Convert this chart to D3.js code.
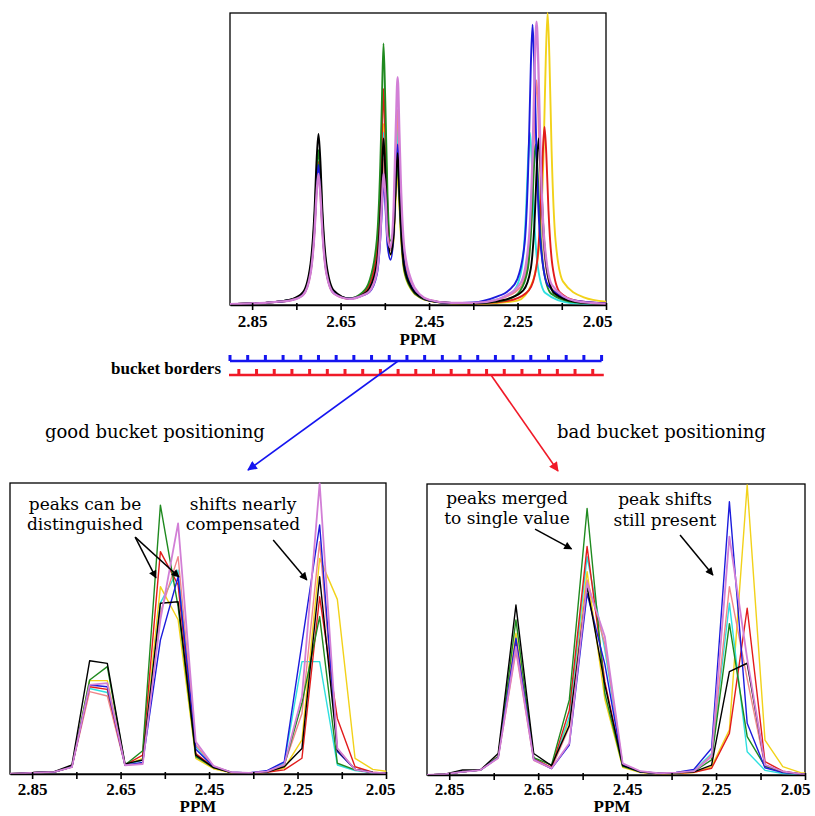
<!DOCTYPE html>
<html>
<head>
<meta charset="utf-8">
<script src="https://cdn.jsdelivr.net/npm/d3@7"></script>
<style>
  body { margin: 0; background: #fff; }
  svg { display: block; }
</style>
</head>
<body>
<svg id="fig" width="815" height="816"></svg>
<script>
// ---- data ----
const ppmTicks = [2.85, 2.75, 2.65, 2.55, 2.45, 2.35, 2.25, 2.15, 2.05];
const ppmTickLabels = ["2.85", "2.65", "2.45", "2.25", "2.05"];

// bucket borders (ppm)
const blueBorders = [2.90, 2.86, 2.82, 2.78, 2.74, 2.70, 2.66, 2.62, 2.58, 2.54, 2.50, 2.46, 2.42, 2.38, 2.34, 2.30, 2.26, 2.22, 2.18, 2.14, 2.10, 2.06];
const redBorders = [2.88, 2.84, 2.80, 2.76, 2.72, 2.68, 2.64, 2.60, 2.56, 2.52, 2.48, 2.44, 2.40, 2.36, 2.32, 2.28, 2.24, 2.20, 2.16, 2.12, 2.08];
const redLineEnd = 2.055;

// full spectra, [ppm, intensity %]
const topBlack = [[2.90,0.3],[2.80,1],[2.76,2],[2.735,4.4],[2.718,14.1],[2.709,32.2],[2.704,50.4],[2.700,58.6],[2.696,50.4],[2.691,32.2],[2.682,14.1],[2.665,4.9],[2.63,2.2],
  [2.60,3.6],[2.585,5.6],[2.568,14.3],[2.560,31.4],[2.557,42.8],[2.553,57],[2.549,45.9],[2.544,26.1],[2.537,17.4],[2.530,24.6],[2.525,42.4],[2.521,52],[2.517,39],[2.514,28.6],[2.506,13],[2.489,5.7],[2.47,2.8],[2.45,1.6],[2.40,0.7],
  [2.35,0.6],[2.30,1.2],[2.27,2.2],[2.237,5],[2.220,12.5],[2.211,30.2],[2.206,48.5],[2.202,57],[2.198,48.5],[2.193,30.2],[2.184,12.5],[2.167,4],[2.12,1.1],[2.05,0.4]];
const topGreen = [[2.90,0.3],[2.80,1],[2.76,1.9],[2.735,4],[2.718,12.7],[2.709,29.2],[2.704,45.6],[2.700,53],[2.696,45.6],[2.691,29.2],[2.682,12.7],[2.665,4.5],[2.63,2.3],
  [2.60,4.4],[2.585,8.2],[2.568,22.4],[2.560,49.3],[2.557,67.2],[2.553,89.6],[2.549,70.1],[2.544,38.1],[2.537,22],[2.530,25.8],[2.525,41.4],[2.521,48],[2.517,36],[2.514,26.4],[2.506,12],[2.489,5.3],[2.47,2.6],[2.45,1.5],[2.40,0.6],
  [2.35,0.5],[2.30,1.1],[2.27,2],[2.244,4.9],[2.227,12.1],[2.218,29.2],[2.213,46.8],[2.209,55],[2.205,46.8],[2.200,29.2],[2.191,12.1],[2.174,3.9],[2.12,0.9],[2.05,0.3]];
const topRed = [[2.90,0.3],[2.80,1],[2.76,1.8],[2.735,3.7],[2.718,11.8],[2.709,27],[2.704,42.1],[2.700,49],[2.696,42.1],[2.691,27],[2.682,11.8],[2.665,4.2],[2.63,2.2],
  [2.60,4],[2.585,6.9],[2.568,18.5],[2.560,40.7],[2.557,55.5],[2.553,74],[2.549,58.5],[2.544,32.4],[2.537,19.8],[2.530,25.3],[2.525,41.9],[2.521,50],[2.517,37.5],[2.514,27.5],[2.506,12.5],[2.489,5.5],[2.47,2.7],[2.45,1.5],[2.40,0.6],
  [2.35,0.5],[2.30,0.9],[2.26,1.8],[2.224,5.1],[2.207,13.4],[2.198,32.3],[2.193,51.9],[2.189,61],[2.185,51.9],[2.180,32.3],[2.171,13.4],[2.154,4.3],[2.12,1.6],[2.05,0.5]];
const topBlue = [[2.90,0.3],[2.80,1],[2.76,1.8],[2.735,3.6],[2.718,11.5],[2.709,26.4],[2.704,41.3],[2.700,48],[2.696,41.3],[2.691,26.4],[2.682,11.5],[2.665,4.1],[2.63,2.2],
  [2.60,3.3],[2.585,4.4],[2.568,10.5],[2.560,23.1],[2.557,31.5],[2.553,42],[2.549,34.8],[2.544,20.7],[2.537,15.5],[2.530,24.5],[2.525,43.8],[2.521,55],[2.517,41.3],[2.514,30.3],[2.506,13.8],[2.489,6],[2.47,2.9],[2.45,1.6],[2.40,0.7],
  [2.35,0.9],[2.30,2.7],[2.27,5],[2.251,8.7],[2.234,21.1],[2.225,50.9],[2.220,81.6],[2.216,96],[2.212,81.6],[2.207,50.9],[2.198,21.1],[2.181,6.7],[2.13,1.7],[2.05,0.5]];
const topCyan = [[2.90,0.3],[2.80,1],[2.76,1.8],[2.735,3.5],[2.718,11.3],[2.709,25.9],[2.704,40.4],[2.700,47],[2.696,40.4],[2.691,25.9],[2.682,11.3],[2.665,4],[2.63,2.2],
  [2.60,3.6],[2.585,5.7],[2.568,14.8],[2.560,32.5],[2.557,44.3],[2.553,59],[2.549,48],[2.544,27.6],[2.537,19.2],[2.530,28.2],[2.525,49.3],[2.521,61],[2.517,45.8],[2.514,33.6],[2.506,15.3],[2.489,6.5],[2.47,3],[2.45,1.6],[2.40,0.7],
  [2.35,0.7],[2.30,1.7],[2.28,2.8],[2.257,5.1],[2.240,13],[2.231,31.3],[2.226,50.2],[2.222,59],[2.218,50.2],[2.213,31.3],[2.204,13],[2.187,4.1],[2.13,0.7],[2.05,0.2]];
const topYellow = [[2.90,0.3],[2.80,1],[2.76,1.8],[2.735,3.6],[2.718,11.5],[2.709,26.4],[2.704,41.3],[2.700,48],[2.696,41.3],[2.691,26.4],[2.682,11.5],[2.665,4.1],[2.63,2.2],
  [2.60,3.5],[2.585,6],[2.568,15.5],[2.560,34.1],[2.557,46.5],[2.553,62],[2.549,49.2],[2.544,27.4],[2.537,17.1],[2.530,22.4],[2.525,37.5],[2.521,45],[2.517,33.8],[2.514,24.8],[2.506,11.3],[2.489,5],[2.47,2.5],[2.45,1.4],[2.40,0.6],
  [2.35,0.4],[2.30,0.7],[2.25,1.5],[2.217,7.5],[2.200,22],[2.191,53],[2.186,85],[2.182,100],[2.178,85],[2.173,53],[2.164,22],[2.147,8],[2.10,2.6],[2.05,1.1]];
const topSalmon = [[2.90,0.3],[2.80,1],[2.76,1.7],[2.735,3.4],[2.718,10.8],[2.709,24.8],[2.704,38.7],[2.700,45],[2.696,38.7],[2.691,24.8],[2.682,10.8],[2.665,3.9],[2.63,2.1],
  [2.60,3.3],[2.585,5],[2.568,12.5],[2.560,27.5],[2.557,37.5],[2.553,50],[2.549,41.5],[2.544,24.7],[2.537,18.7],[2.530,29.8],[2.525,53.3],[2.521,67],[2.517,50.3],[2.514,36.9],[2.506,16.8],[2.489,7],[2.47,3.2],[2.45,1.7],[2.40,0.7],
  [2.35,0.6],[2.30,1.5],[2.28,2.6],[2.242,6.4],[2.225,16.9],[2.216,40.8],[2.211,65.5],[2.207,77],[2.203,65.5],[2.198,40.8],[2.189,16.9],[2.172,5.4],[2.12,1.2],[2.05,0.3]];
const topOrchid = [[2.90,0.3],[2.80,1],[2.76,1.7],[2.735,3.4],[2.718,10.8],[2.709,24.8],[2.704,38.7],[2.700,45],[2.696,38.7],[2.691,24.8],[2.682,10.8],[2.665,3.9],[2.63,2.1],
  [2.60,3.3],[2.585,4.6],[2.568,11.3],[2.560,24.8],[2.557,33.8],[2.553,45],[2.549,38.5],[2.544,23.7],[2.537,19.7],[2.530,33.4],[2.525,61.2],[2.521,78],[2.517,58.5],[2.514,42.9],[2.506,19.5],[2.489,8],[2.47,3.5],[2.45,1.8],[2.40,0.7],
  [2.35,0.7],[2.30,1.7],[2.28,2.9],[2.242,7.8],[2.225,21.3],[2.216,51.4],[2.211,82.5],[2.207,97],[2.203,82.5],[2.198,51.4],[2.189,21.3],[2.172,6.8],[2.12,1.4],[2.05,0.4]];

// good bucket positioning: bucket centres (blue borders)
const goodPpm = [2.92, 2.88, 2.84, 2.80, 2.76, 2.72, 2.68, 2.64, 2.60, 2.56, 2.52, 2.48, 2.44, 2.40, 2.36, 2.32, 2.28, 2.24, 2.20, 2.16, 2.12, 2.08, 2.04];
const goodBlack  = [0, 0.2, 0.5, 0.8, 3.1, 38.9, 38, 3.5, 4.8, 58.7, 59.2, 6.5, 2.2, 0.5, 0.3, 0.7, 2.5, 8.8, 67.8, 8.2, 1.6, 0.5, 0.2];
const goodGreen  = [0, 0.2, 0.5, 0.7, 2.5, 32.3, 36.9, 3.1, 8, 92.4, 57.5, 6, 2.2, 0.5, 0.3, 0.7, 3, 24.3, 54.1, 3.7, 1.4, 0.5, 0.2];
const goodRed    = [0, 0.2, 0.5, 0.7, 2.5, 30, 29.1, 3.1, 6.5, 76.4, 65, 7, 2.3, 0.5, 0.3, 0.6, 1.4, 5.4, 60.9, 19.1, 2.5, 0.6, 0.2];
const goodBlue   = [0, 0.2, 0.5, 0.7, 2.5, 30.6, 30, 3, 4, 46, 67.8, 8.5, 2.5, 0.6, 0.4, 1.1, 4.2, 45, 85.6, 7.7, 1.6, 0.5, 0.2];
const goodCyan   = [0, 0.2, 0.5, 0.7, 2.5, 29.4, 28, 3, 4.8, 58.8, 70.1, 9.4, 2.6, 0.6, 0.4, 0.9, 3.7, 38.6, 38.6, 3.1, 1.2, 0.4, 0.1];
const goodYellow = [0, 0.2, 0.5, 0.7, 2.5, 32.1, 32.1, 3, 5.4, 64.4, 53, 5.4, 1.8, 0.4, 0.3, 0.6, 2, 11.7, 74.1, 60, 5.4, 1.6, 0.7];
const goodSalmon = [0, 0.2, 0.5, 0.7, 2.4, 28.3, 26.8, 3, 3.8, 55.3, 74.7, 10, 2.7, 0.6, 0.4, 0.8, 3.2, 20.8, 79.8, 8.8, 1.5, 0.5, 0.2];
const goodOrchid = [0, 0.2, 0.5, 0.7, 2.4, 30.6, 31.2, 3, 3.4, 53, 86.1, 11.1, 2.8, 0.6, 0.4, 0.8, 3.2, 26.6, 99.9, 8.8, 1.5, 0.5, 0.2];

// bad bucket positioning: bucket centres (red borders)
const badPpm = [2.90, 2.86, 2.82, 2.78, 2.74, 2.70, 2.66, 2.62, 2.58, 2.54, 2.50, 2.46, 2.42, 2.38, 2.34, 2.30, 2.26, 2.22, 2.18, 2.14, 2.10, 2.06, 2.02];
const badBlack  = [0, 0.3, 1.7, 1.7, 7.4, 58.4, 7.4, 3.2, 17, 64.7, 31, 3.2, 1.1, 0.5, 0.8, 1.1, 3.4, 35.5, 38.4, 3.4, 1.1, 0.4, 0.2];
const badGreen  = [0, 0.3, 1.1, 1.7, 6.3, 53.3, 6, 3.4, 25.8, 91.6, 28, 3, 1, 0.5, 0.7, 1.2, 5.2, 52, 13.2, 3, 1, 0.3, 0.1];
const badRed    = [0, 0.3, 1.1, 1.7, 6.3, 46.4, 5.7, 2.5, 22.3, 78.5, 32, 3.3, 1, 0.5, 0.6, 0.9, 2.3, 14.3, 57.3, 4.6, 1.3, 0.4, 0.1];
const badBlue   = [0, 0.3, 1.1, 1.7, 6, 47, 5.4, 2.2, 10.3, 62.4, 38, 3.4, 1.1, 0.6, 0.9, 1.9, 9.2, 93.9, 17.8, 2.5, 0.8, 0.3, 0.1];
const badCyan   = [0, 0.3, 1.1, 1.7, 6, 45.5, 5.4, 2.3, 20, 75, 43, 3.6, 1.1, 0.6, 0.8, 1.4, 7.4, 59, 8, 1.6, 0.5, 0.2, 0.1];
const badYellow = [0, 0.3, 1.1, 1.7, 6.3, 48.7, 5.5, 2.3, 18.9, 69.9, 26, 2.6, 0.8, 0.4, 0.5, 0.8, 2.9, 15.5, 99.7, 12, 2.9, 0.8, 0.4];
const badSalmon = [0, 0.3, 1.1, 1.7, 5.8, 42.4, 5, 2.2, 16.5, 67, 45, 3.6, 1.2, 0.6, 0.8, 1.2, 6.9, 64.7, 33, 3, 1, 0.3, 0.1];
const badOrchid = [0, 0.3, 1.1, 1.7, 5.8, 44, 5.2, 2.3, 10.9, 65.9, 47.5, 4, 1.3, 0.6, 0.8, 1.3, 6.3, 81.9, 40, 3.5, 1.2, 0.4, 0.1];

const drawOrder = ["yellow", "cyan", "salmon", "red", "green", "blue", "black", "orchid"];
const colors = {
  black: "#000000", green: "#1f8a1f", red: "#e21b1b", blue: "#1b1bdc",
  cyan: "#2fe0e0", yellow: "#f2d21a", salmon: "#f0868a", orchid: "#d27fd6"
};
const topSeries = { black: topBlack, green: topGreen, red: topRed, blue: topBlue, cyan: topCyan, yellow: topYellow, salmon: topSalmon, orchid: topOrchid };
const goodSeries = { black: goodBlack, green: goodGreen, red: goodRed, blue: goodBlue, cyan: goodCyan, yellow: goodYellow, salmon: goodSalmon, orchid: goodOrchid };
const badSeries = { black: badBlack, green: badGreen, red: badRed, blue: badBlue, cyan: badCyan, yellow: badYellow, salmon: badSalmon, orchid: badOrchid };

const boldFont = "'Liberation Serif', 'Times New Roman', serif";
const textFont = "'DejaVu Serif', serif";

const svg = d3.select("#fig");
const defs = svg.append("defs");

function arrowMarker(id, color, size) {
  defs.append("marker")
    .attr("id", id)
    .attr("viewBox", "0 0 10 10")
    .attr("refX", 9).attr("refY", 5)
    .attr("markerUnits", "userSpaceOnUse")
    .attr("markerWidth", size).attr("markerHeight", size * 0.8)
    .attr("orient", "auto")
    .append("path").attr("d", "M0,0 L10,5 L0,10 z").attr("fill", color);
}
arrowMarker("ah-black", "#000", 10);
arrowMarker("ah-blue", "#1515f0", 12);
arrowMarker("ah-red", "#f01a28", 12);

function makePanel(id, x0, x1, yTop, yBot, pad, ppmGap, lastDx, ppmDx) {
  const x = d3.scaleLinear().domain([2.90, 2.05]).range([x0, x1]);
  const y = d3.scaleLinear().domain([0, 100]).range([yBot, yTop]);
  defs.append("clipPath").attr("id", "clip-" + id)
    .append("rect").attr("x", x0).attr("y", yTop - 1).attr("width", x1 - x0).attr("height", yBot - yTop + 1);
  const g = svg.append("g").attr("class", "panel-" + id);
  g.append("rect")
    .attr("x", x0).attr("y", yTop).attr("width", x1 - x0).attr("height", yBot - yTop)
    .attr("fill", "none").attr("stroke", "#000").attr("stroke-width", 1.3);
  const plot = g.append("g").attr("clip-path", `url(#clip-${id})`);

  const axis = d3.axisBottom(x)
    .tickValues(ppmTicks)
    .tickSizeInner(5).tickSizeOuter(0).tickPadding(pad)
    .tickFormat(d => ppmTickLabels.includes(d.toFixed(2)) ? d.toFixed(2) : "");
  const ag = g.append("g").attr("transform", `translate(0,${yBot})`).call(axis);
  ag.select(".domain").attr("stroke", "#000").attr("stroke-width", 1.6);
  ag.selectAll(".tick line").attr("y1", -2).attr("stroke", "#000").attr("stroke-width", 1.6);
  ag.selectAll(".tick text")
    .attr("font-family", boldFont).attr("font-weight", "bold")
    .attr("font-size", 17).attr("fill", "#000");
  ag.selectAll(".tick text").filter(d => d === 2.05).attr("dx", lastDx);
  g.append("text")
    .attr("x", (x0 + x1) / 2 + ppmDx).attr("y", yBot + ppmGap)
    .attr("text-anchor", "middle")
    .attr("font-family", boldFont).attr("font-weight", "bold").attr("font-size", 17)
    .text("PPM");
  return { x, y, g, plot };
}

// ---- top: full spectra ----
const spec = makePanel("top", 230, 606, 13, 305, 5, 40, -9, 0);
const specLine = d3.line()
  .x(d => spec.x(d[0])).y(d => spec.y(d[1]))
  .curve(d3.curveMonotoneX);
spec.plot.selectAll("path.spec")
  .data(drawOrder)
  .join("path")
  .attr("class", "spec")
  .attr("d", k => specLine(topSeries[k]))
  .attr("fill", "none")
  .attr("stroke", k => colors[k])
  .attr("stroke-width", k => k === "orchid" ? 2.3 : 1.9)
  .attr("stroke-linejoin", "round");

// ---- bucket borders ----
const bx = spec.x;
const bb = svg.append("g");
bb.append("line")
  .attr("x1", bx(blueBorders[0])).attr("x2", bx(blueBorders[blueBorders.length - 1]))
  .attr("y1", 361).attr("y2", 361)
  .attr("stroke", "#1515f0").attr("stroke-width", 2.6);
bb.selectAll("rect.bt").data(blueBorders).join("rect")
  .attr("class", "bt")
  .attr("x", d => bx(d) - 1.5).attr("y", 355).attr("width", 3).attr("height", 6)
  .attr("fill", "#1515f0");
bb.append("line")
  .attr("x1", bx(2.90) - 1).attr("x2", bx(redLineEnd))
  .attr("y1", 375).attr("y2", 375)
  .attr("stroke", "#f01a28").attr("stroke-width", 2.6);
bb.selectAll("rect.rt").data(redBorders).join("rect")
  .attr("class", "rt")
  .attr("x", d => bx(d) - 1.5).attr("y", 369).attr("width", 3).attr("height", 6)
  .attr("fill", "#f01a28");
bb.append("text")
  .attr("x", 221).attr("y", 374).attr("text-anchor", "end")
  .attr("font-family", boldFont).attr("font-weight", "bold").attr("font-size", 17)
  .text("bucket borders");

// ---- bottom panels ----
const goodP = makePanel("good", 10, 386, 483, 774, 4, 38, -6, 0);
const badP = makePanel("bad", 427, 805, 484, 775, 3, 37, -10, -4);

function drawBuckets(p, ppm, series) {
  const line = d3.line()
    .x((d, i) => p.x(ppm[i])).y(d => p.y(d));
  p.plot.selectAll("path.bk")
    .data(drawOrder)
    .join("path")
    .attr("class", "bk")
    .attr("d", k => line(series[k]))
    .attr("fill", "none")
    .attr("stroke", k => colors[k])
    .attr("stroke-width", k => k === "orchid" ? 1.8 : 1.4)
    .attr("stroke-linejoin", "round");
}
drawBuckets(goodP, goodPpm, goodSeries);
drawBuckets(badP, badPpm, badSeries);

// ---- connecting arrows & captions ----
svg.append("line")
  .attr("x1", bx(2.52)).attr("y1", 361).attr("x2", 248).attr("y2", 470)
  .attr("stroke", "#1515f0").attr("stroke-width", 1.6)
  .attr("marker-end", "url(#ah-blue)");
svg.append("line")
  .attr("x1", bx(2.31)).attr("y1", 375).attr("x2", 558).attr("y2", 471)
  .attr("stroke", "#f01a28").attr("stroke-width", 1.6)
  .attr("marker-end", "url(#ah-red)");

function caption(x, y, txt, size, anchor) {
  svg.append("text")
    .attr("x", x).attr("y", y)
    .attr("text-anchor", anchor || "start")
    .attr("font-family", textFont).attr("font-size", size)
    .attr("fill", "#000")
    .text(txt);
}
caption(45, 438, "good bucket positioning", 18);
caption(557, 438, "bad bucket positioning", 18);

caption(85, 510, "peaks can be", 17, "middle");
caption(85, 530, "distinguished", 17, "middle");
caption(243, 510, "shifts nearly", 17, "middle");
caption(243, 530, "compensated", 17, "middle");
caption(507, 504, "peaks merged", 17, "middle");
caption(507, 524, "to single value", 17, "middle");
caption(665, 505, "peak shifts", 17, "middle");
caption(665, 526, "still present", 17, "middle");

// annotation arrows, placed in data coordinates of each panel
const leftArrows = [
  [[2.617, 81.4], [2.570, 67.4]],
  [[2.617, 81.4], [2.518, 67.7]],
  [[2.305, 80.4], [2.229, 66.7]]
];
const rightArrows = [
  [[2.657, 84.5], [2.575, 77.7]],
  [[2.331, 82.5], [2.257, 68.7]]
];
function annotArrows(p, list) {
  p.g.selectAll("line.ann").data(list).join("line")
    .attr("class", "ann")
    .attr("x1", d => p.x(d[0][0])).attr("y1", d => p.y(d[0][1]))
    .attr("x2", d => p.x(d[1][0])).attr("y2", d => p.y(d[1][1]))
    .attr("stroke", "#000").attr("stroke-width", 1.5)
    .attr("marker-end", "url(#ah-black)");
}
annotArrows(goodP, leftArrows);
annotArrows(badP, rightArrows);
</script>
</body>
</html>
